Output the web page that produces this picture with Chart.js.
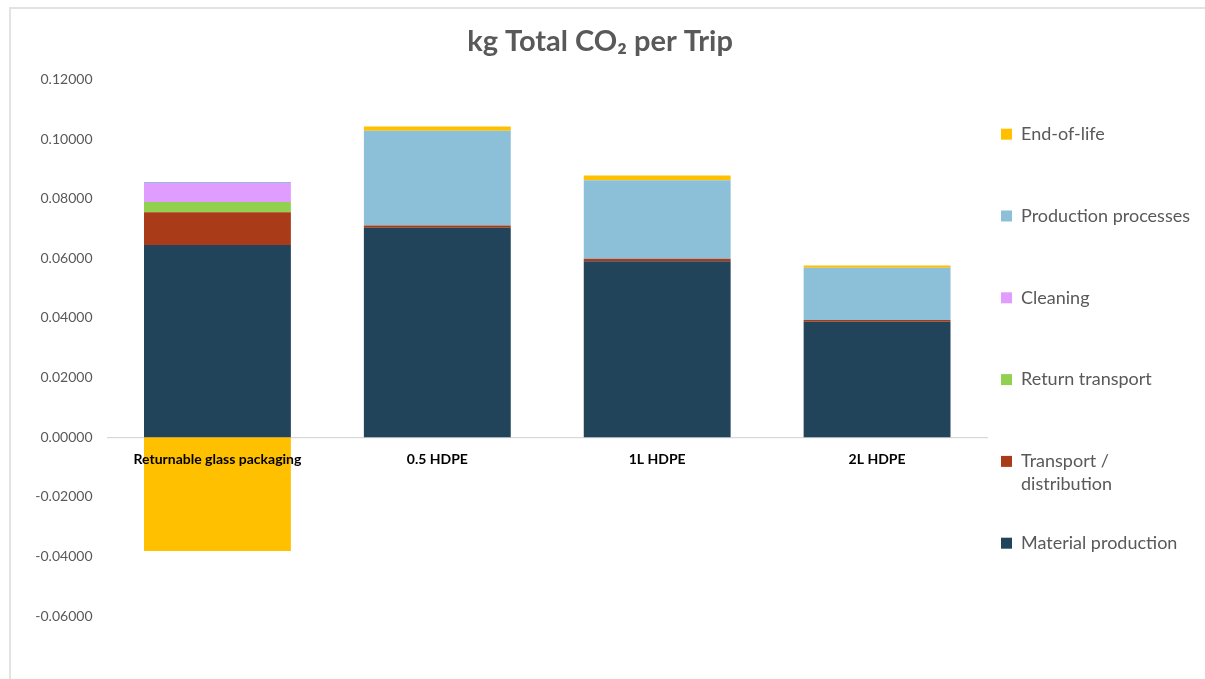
<!DOCTYPE html>
<html>
<head>
<meta charset="utf-8">
<script src="https://cdn.jsdelivr.net/npm/chart.js@4.4.1/dist/chart.umd.min.js"></script>
<style>
  html, body { margin: 0; padding: 0; background: #ffffff; }
  #wrap { position: relative; width: 1205px; height: 679px; overflow: hidden; }
  #frame { position: absolute; left: 9px; top: 7px; width: 1300px; height: 800px;
           border-top: 2px solid #e3e3e3; border-left: 2px solid #e3e3e3; box-sizing: border-box; }
  canvas { position: absolute; left: 0; top: 0; }
</style>
</head>
<body>
<div id="wrap">
  <div id="frame"></div>
  <canvas id="c" width="1205" height="679"></canvas>
</div>
<script>
const categories = ['Returnable glass packaging', '0.5 HDPE', '1L HDPE', '2L HDPE'];

const materialProduction   = [0.0645, 0.0703, 0.0590, 0.0387];
const transportDistribution = [0.0110, 0.0007, 0.0009, 0.0006];
const returnTransport      = [0.0034, 0, 0, 0];
const cleaning             = [0.0064, 0, 0, 0];
const productionProcesses  = [0.0003, 0.0318, 0.0263, 0.0175];
const endOfLife            = [-0.0382, 0.0014, 0.0016, 0.0008];

const seriesNames = ['Material production', 'Transport / distribution', 'Return transport',
                     'Cleaning', 'Production processes', 'End-of-life'];
const seriesColors = ['#21445B', '#A93B19', '#92D050', '#E09CFF', '#8CC0D9', '#FFC000'];
const seriesValues = [materialProduction, transportDistribution, returnTransport,
                      cleaning, productionProcesses, endOfLife];

const yMin = -0.06, yMax = 0.12, yStep = 0.02;

const datasets = seriesNames.map((name, i) => ({
  label: name,
  data: seriesValues[i],
  backgroundColor: seriesColors[i],
  borderWidth: 0,
  barPercentage: 0.668,
  categoryPercentage: 1.0
}));

new Chart(document.getElementById('c'), {
  type: 'bar',
  data: { labels: categories, datasets: datasets },
  options: {
    responsive: false,
    animation: false,
    layout: { padding: { left: 0, right: 5, top: 0, bottom: 63 } },
    plugins: {
      title: {
        display: true,
        text: 'kg Total CO\u2082 per Trip',
        color: '#595959',
        font: { family: 'Lato', size: 29, weight: 'bold' },
        padding: { top: 24.6, bottom: 20.1 }
      },
      legend: {
        position: 'right',
        align: 'end',
        reverse: true,
        labels: {
          color: '#595959',
          font: { family: 'Lato', size: 18, lineHeight: 1.2556 },
          boxWidth: 11,
          boxHeight: 11,
          padding: 14,
          generateLabels: (chart) => {
            const items = Chart.defaults.plugins.legend.labels.generateLabels(chart);
            items.forEach(it => {
              const parts = it.text.split(' / ');
              if (parts.length > 1) {
                it.text = [parts[0] + ' /', parts[1], ''];
              } else {
                it.text = [it.text, '', ''];
              }
              it.lineWidth = 0;
            });
            return items;
          }
        }
      },
      tooltip: { enabled: false }
    },
    scales: {
      x: {
        stacked: true,
        position: { y: 0 },
        grid: { display: false, drawTicks: false },
        border: { display: true, color: '#d9d9d9', width: 1.3 },
        ticks: {
          z: 1,
          color: '#000000',
          font: { family: 'Lato', size: 14, weight: 'bold' },
          padding: 13.6,
          maxRotation: 0,
          autoSkip: false
        }
      },
      y: {
        stacked: true,
        min: yMin,
        max: yMax,
        afterFit: (scale) => { scale.width = 107.5; },
        grid: { display: false, drawTicks: false },
        border: { display: false },
        ticks: {
          stepSize: yStep,
          color: '#595959',
          font: { family: 'Lato', size: 14 },
          padding: 15,
          callback: (v) => Number(v).toFixed(5)
        }
      }
    }
  }
});
</script>
</body>
</html>
